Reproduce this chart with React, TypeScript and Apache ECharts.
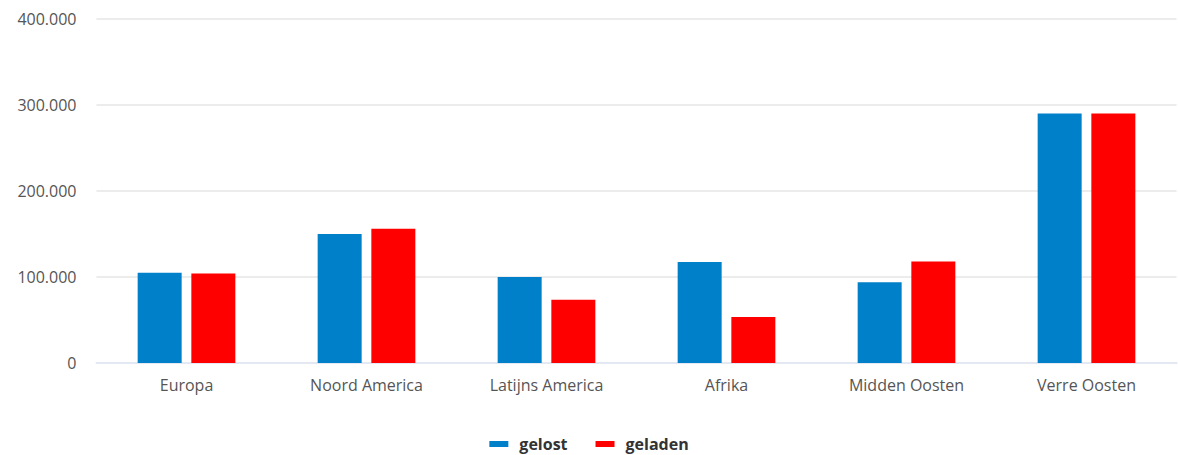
import React, { useEffect, useRef } from "react";
import * as echarts from "echarts";

const categories = ["Europa", "Noord America", "Latijns America", "Afrika", "Midden Oosten", "Verre Oosten"];
const gelost = [105000, 150000, 100000, 117500, 94000, 290000];
const geladen = [104000, 156000, 73500, 53500, 118000, 290000];
const seriesNames = ["gelost", "geladen"];
const yTicks = [0, 100000, 200000, 300000, 400000];

const FONT = "'Open Sans', 'Noto Sans', sans-serif";

function fmt(v: number): string {
  if (v === 0) return "0";
  return v.toString().replace(/\B(?=(\d{3})+(?!\d))/g, ".");
}

export default function App() {
  const ref = useRef<HTMLDivElement>(null);
  useEffect(() => {
    document.body.style.margin = "0";
    if (!ref.current) return;
    const chart = echarts.init(ref.current, null, { renderer: "svg" });
    chart.setOption({
      animation: false,
      backgroundColor: "#ffffff",
      textStyle: { fontFamily: FONT },
      legend: {
        data: seriesNames,
        top: 436,
        left: "center",
        padding: 0,
        icon: "rect",
        itemWidth: 19,
        itemHeight: 6,
        itemGap: 28,
        textStyle: {
          fontFamily: FONT,
          fontSize: 16,
          fontWeight: "bold",
          color: "#333333",
          padding: [0, 0, 0, 6],
        },
      },
      grid: { left: 96.5, right: 1.5, top: 19, bottom: 92, containLabel: false },
      xAxis: {
        type: "category",
        data: categories,
        axisTick: { show: false },
        axisLine: { show: true, lineStyle: { color: "#e3e8f2", width: 2 } },
        axisLabel: { color: "#555555", fontSize: 16, margin: 14, fontFamily: FONT },
      },
      yAxis: {
        type: "value",
        min: yTicks[0],
        max: yTicks[yTicks.length - 1],
        interval: 100000,
        axisLine: { show: false },
        axisTick: { show: false },
        splitLine: { lineStyle: { color: "#ececec", width: 2 } },
        axisLabel: {
          color: "#555555",
          fontSize: 16,
          margin: 20,
          fontFamily: FONT,
          formatter: (v: number) => fmt(v),
        },
      },
      series: [
        {
          name: seriesNames[0],
          type: "bar",
          data: gelost,
          barWidth: 44,
          barGap: "22%",
          itemStyle: { color: "#0080c9" },
        },
        {
          name: seriesNames[1],
          type: "bar",
          data: geladen,
          barWidth: 44,
          itemStyle: { color: "#ff0000" },
        },
      ],
    });
    return () => chart.dispose();
  }, []);
  return <div ref={ref} style={{ width: 1178, height: 455 }} />;
}
